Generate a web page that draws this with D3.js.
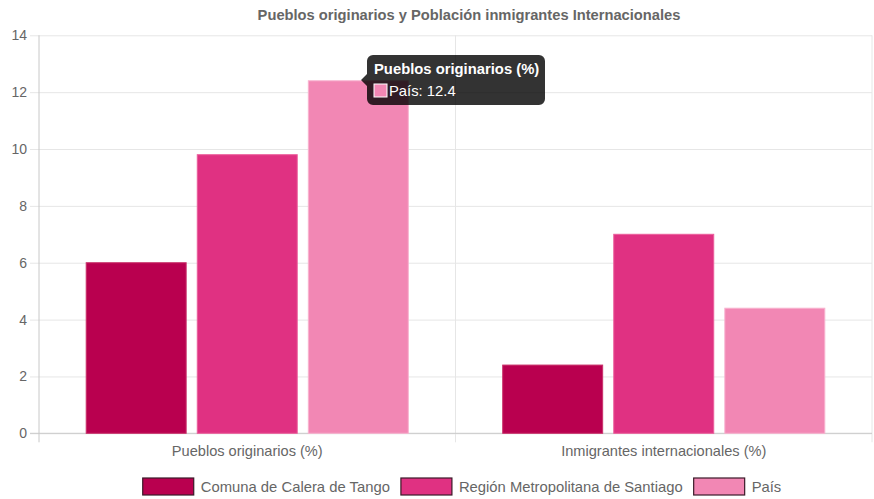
<!DOCTYPE html>
<html><head><meta charset="utf-8">
<script src="https://cdn.jsdelivr.net/npm/d3@7"></script>
<style>
html,body{margin:0;padding:0;background:#fff;}
svg{display:block;font-family:"Liberation Sans",Arial,Helvetica,sans-serif;}
</style></head>
<body><svg id="c" width="874" height="499"></svg>
<script>
const categories = ["Pueblos originarios (%)", "Inmigrantes internacionales (%)"];
const seriesNames = ["Comuna de Calera de Tango", "Región Metropolitana de Santiago", "País"];
const comunaValues = [6.0, 2.4];
const regionValues = [9.8, 7.0];
const paisValues = [12.4, 4.4];
const yTicks = [0, 2, 4, 6, 8, 10, 12, 14];
const titleText = "Pueblos originarios y Población inmigrantes Internacionales";
const tooltipTitle = "Pueblos originarios (%)";
const tooltipBody = "País: 12.4";

const colors = ["#b9004f", "#e03182", "#f287b4"];
const borders = ["#c9306a", "#eb5e9c", "#f8b2cf"];
const series = [comunaValues, regionValues, paisValues];

const svg = d3.select("#c");
const L = 39, R = 872, T = 35.3, B = 433.3;

const x = d3.scaleBand().domain(categories).range([L, R]).padding(0);
const inner = d3.scaleBand().domain(d3.range(3))
  .range([x.bandwidth()*0.1, x.bandwidth()*0.9]).paddingInner(0.1).paddingOuter(0.05);
const y = d3.scaleLinear().domain([0, 14]).range([B, T]);

// title
svg.append("text").attr("x", 469).attr("y", 20).attr("text-anchor", "middle")
  .attr("font-size", 14.7).attr("font-weight", "bold").attr("fill", "#666").text(titleText);

// horizontal gridlines
const yAxis = d3.axisLeft(y).tickValues(yTicks).tickSize(-(R - L)).tickSizeOuter(0).tickPadding(12);
const gy = svg.append("g").attr("transform", `translate(${L},0)`).call(yAxis);
gy.select(".domain").remove();
gy.selectAll(".tick line").attr("stroke", "#e6e6e6").attr("x1", -9);
gy.selectAll(".tick text").attr("fill", "#666").attr("font-size", 14)
  .attr("font-family", "Liberation Sans, Arial, sans-serif").attr("x", -12);

// vertical gridlines
const vx = [L, ...categories.map(c => x(c) + x.bandwidth())];
svg.append("g").selectAll("line").data(vx).join("line")
  .attr("x1", d => d).attr("x2", d => d).attr("y1", T).attr("y2", B + 9)
  .attr("stroke", (d, i) => i === 0 ? "#c8c8c8" : "#e6e6e6").attr("stroke-width", 1);

// zero line
svg.append("line").attr("x1", L - 9).attr("x2", R).attr("y1", y(0)).attr("y2", y(0))
  .attr("stroke", "#c8c8c8");

// bars
const barData = [];
categories.forEach((c, ci) => series.forEach((s, si) => barData.push({c, si, v: s[ci]})));
svg.append("g").selectAll("rect").data(barData).join("rect")
  .attr("x", d => x(d.c) + inner(d.si))
  .attr("width", inner.bandwidth())
  .attr("y", d => y(d.v))
  .attr("height", d => y(0) - y(d.v))
  .attr("fill", d => colors[d.si])
  .attr("stroke", d => borders[d.si]).attr("stroke-width", 1);

// x labels
svg.append("g").selectAll("text").data(categories).join("text")
  .attr("x", d => x(d) + x.bandwidth()/2).attr("y", 456)
  .attr("text-anchor", "middle").attr("font-size", 14.6).attr("fill", "#666").text(d => d);

// legend
function drawLegend() {
  const lg = svg.append("g");
  const boxW = 51, gapT = 7, gapI = 11;
  const ctx = document.createElement("canvas").getContext("2d");
  ctx.font = '14.8px "Liberation Sans"';
  const items = seriesNames.map((n, i) => {
    const w = ctx.measureText(n).width;
    const t = lg.append("text").attr("font-size", 14.8).attr("fill", "#666").attr("y", 492)
      .attr("textLength", w).attr("lengthAdjust", "spacingAndGlyphs").text(n);
    return {t, w, i};
  });
  const total = d3.sum(items, d => boxW + gapT + d.w) + gapI * (items.length - 1);
  let cx = 462 - total/2;
  items.forEach(d => {
    lg.append("rect").attr("x", cx).attr("y", 478).attr("width", boxW).attr("height", 17)
      .attr("fill", colors[d.i]).attr("stroke", "#3a1a28").attr("stroke-width", 1.2);
    d.t.attr("x", cx + boxW + gapT);
    cx += boxW + gapT + d.w + gapI;
  });
}
if (document.fonts && document.fonts.load) {
  document.fonts.load('15px "Liberation Sans"').then(drawLegend, drawLegend);
} else drawLegend();

// tooltip
const tx = 367, ty = 55, tw = 178, th = 50;
const tip = svg.append("g");
tip.append("path")
  .attr("d", `M${tx},${ty+6} a6,6 0 0 1 6,-6 h${tw-12} a6,6 0 0 1 6,6 v${th-12} a6,6 0 0 1 -6,6 h${-(tw-12)} a6,6 0 0 1 -6,-6 v${-(th/2-12)} l-6,-6 l6,-6 z`)
  .attr("fill", "rgba(0,0,0,0.8)");
tip.append("text").attr("x", tx + 7).attr("y", ty + 19).attr("fill", "#fff")
  .attr("font-size", 14.8).attr("font-weight", "bold").text(tooltipTitle);
tip.append("rect").attr("x", tx + 7).attr("y", ty + 29).attr("width", 13).attr("height", 13)
  .attr("fill", colors[2]).attr("stroke", "#fff").attr("stroke-width", 1);
tip.append("text").attr("x", tx + 22).attr("y", ty + 41).attr("fill", "#fff")
  .attr("font-size", 14.8).text(tooltipBody);
</script></body></html>
